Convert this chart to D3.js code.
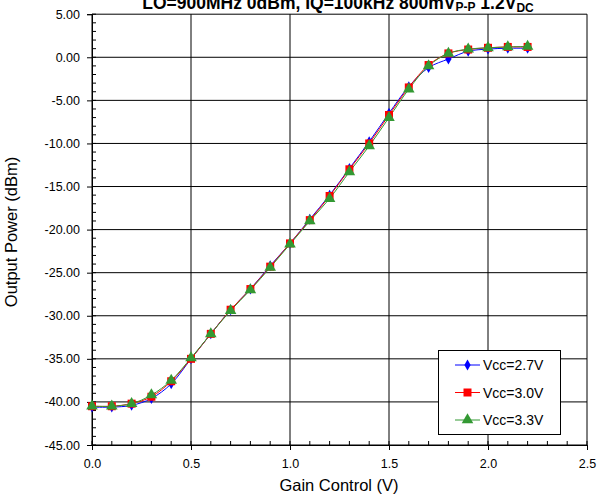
<!DOCTYPE html>
<html><head><meta charset="utf-8">
<script src="https://cdn.jsdelivr.net/npm/d3@7"></script>
<style>body{margin:0;background:#fff}svg{display:block}text{font-family:"Liberation Sans",Arial,sans-serif}</style>
</head><body><svg id="c" width="598" height="504"></svg>
<script>
const gain = [0,0.1,0.2,0.3,0.4,0.5,0.6,0.7,0.8,0.9,1.0,1.1,1.2,1.3,1.4,1.5,1.6,1.7,1.8,1.9,2.0,2.1,2.2];
const vcc27 = [-40.6,-40.6,-40.4,-39.6,-37.9,-35.0,-32.1,-29.3,-26.9,-24.2,-21.6,-18.8,-16.0,-12.9,-9.8,-6.5,-3.4,-1.2,-0.2,0.7,0.95,1.05,1.05];
const vcc30 = [-40.5,-40.5,-40.2,-39.4,-37.6,-35.0,-32.1,-29.3,-26.9,-24.3,-21.6,-18.9,-16.1,-13.0,-10.0,-6.7,-3.5,-0.9,0.45,0.9,1.1,1.2,1.2];
const vcc33 = [-40.5,-40.5,-40.2,-39.2,-37.5,-34.9,-32.1,-29.4,-27.0,-24.4,-21.7,-19.0,-16.4,-13.3,-10.3,-7.0,-3.7,-1.0,0.45,0.95,1.1,1.2,1.25];
const seriesNames = ["Vcc=2.7V","Vcc=3.0V","Vcc=3.3V"];
const xTicks = [0,0.5,1.0,1.5,2.0,2.5];
const yTicks = [5,0,-5,-10,-15,-20,-25,-30,-35,-40,-45];

const svg = d3.select("#c");
const L=92, R=587, T=14.2, B=445;
const x = d3.scaleLinear().domain([0,2.5]).range([L,R]);
const y = d3.scaleLinear().domain([-45,5]).range([B,T]);

const g = svg.append("g");
g.selectAll("line.gy").data(yTicks).join("line")
  .attr("x1",L).attr("x2",R).attr("y1",d=>y(d)).attr("y2",d=>y(d))
  .attr("stroke","#000").attr("stroke-width",1);
g.selectAll("line.gx").data(xTicks).join("line")
  .attr("y1",T).attr("y2",B).attr("x1",d=>x(d)).attr("x2",d=>x(d))
  .attr("stroke","#000").attr("stroke-width",1);

const yMinor = d3.range(-45,5.01,1);
g.selectAll("line.my").data(yMinor).join("line")
  .attr("x1",L).attr("x2",L+4).attr("y1",d=>y(d)).attr("y2",d=>y(d)).attr("stroke","#000");
const xMinor = d3.range(0,2.501,0.1);
g.selectAll("line.mx").data(xMinor).join("line")
  .attr("y1",B).attr("y2",B-4).attr("x1",d=>x(d)).attr("x2",d=>x(d)).attr("stroke","#000");

const ax = svg.append("g").attr("transform",`translate(0,${B})`)
  .call(d3.axisBottom(x).tickValues(xTicks).tickFormat(d3.format(".1f")).tickSize(5).tickPadding(9));
const ay = svg.append("g").attr("transform",`translate(${L},0)`)
  .call(d3.axisLeft(y).tickValues(yTicks).tickFormat(d3.format(".2f")).tickSize(5).tickPadding(7));
[ax,ay].forEach(a=>{
  a.select(".domain").attr("stroke","#000");
  a.selectAll("text").attr("font-size",12.5).attr("fill","#000").style("font-family","Liberation Sans, Arial, sans-serif");
  a.selectAll(".tick line").attr("stroke","#000");
});
ay.selectAll("text").text(d=>d3.format(".2f")(d).replace("−","-"));

const colors = ["#0000ff","#ff0000","#339933"];
const data = [vcc27,vcc30,vcc33];
const line = d3.line().x((d,i)=>x(gain[i])).y(d=>y(d)).curve(d3.curveCatmullRom.alpha(0.5));
data.forEach((s,k)=>{
  svg.append("path").datum(s).attr("d",line).attr("fill","none").attr("stroke",colors[k]).attr("stroke-width",1);
});
const symbols = [d3.symbolDiamond, d3.symbolSquare, d3.symbolTriangle];
const sizes = [34, 64, 58];
data.forEach((s,k)=>{
  svg.append("g").selectAll("path").data(s).join("path")
    .attr("transform",(d,i)=>`translate(${x(gain[i])},${y(d)})`)
    .attr("d",d3.symbol().type(symbols[k]).size(sizes[k]))
    .attr("fill",colors[k]);
});

const lg = svg.append("g");
lg.append("rect").attr("x",438.5).attr("y",350.5).attr("width",122).attr("height",84)
  .attr("fill","#fff").attr("stroke","#000");
const ly = [365,392.5,420];
seriesNames.forEach((n,k)=>{
  lg.append("line").attr("x1",455).attr("x2",480).attr("y1",ly[k]).attr("y2",ly[k]).attr("stroke",colors[k]);
  lg.append("path").attr("transform",`translate(467.5,${ly[k]})`)
    .attr("d",d3.symbol().type(symbols[k]).size(sizes[k])).attr("fill",colors[k]);
  lg.append("text").attr("x",483).attr("y",ly[k]+5).attr("font-size",14).text(n);
});

const t = svg.append("text").attr("x",338).attr("y",9).attr("text-anchor","middle")
  .attr("font-size",17.5).attr("font-weight","bold");
t.append("tspan").text("LO=900MHz 0dBm, IQ=100kHz 800mV");
t.append("tspan").attr("font-size",12).attr("dy",2).text("P-P");
t.append("tspan").attr("dy",-2).text(" 1.2V");
t.append("tspan").attr("font-size",12).attr("dy",3).text("DC");

svg.append("text").attr("x",339).attr("y",491).attr("text-anchor","middle").attr("font-size",16.5).text("Gain Control (V)");
svg.append("text").attr("transform","translate(17,232) rotate(-90)").attr("text-anchor","middle").attr("font-size",16.5).text("Output Power (dBm)");
</script></body></html>
